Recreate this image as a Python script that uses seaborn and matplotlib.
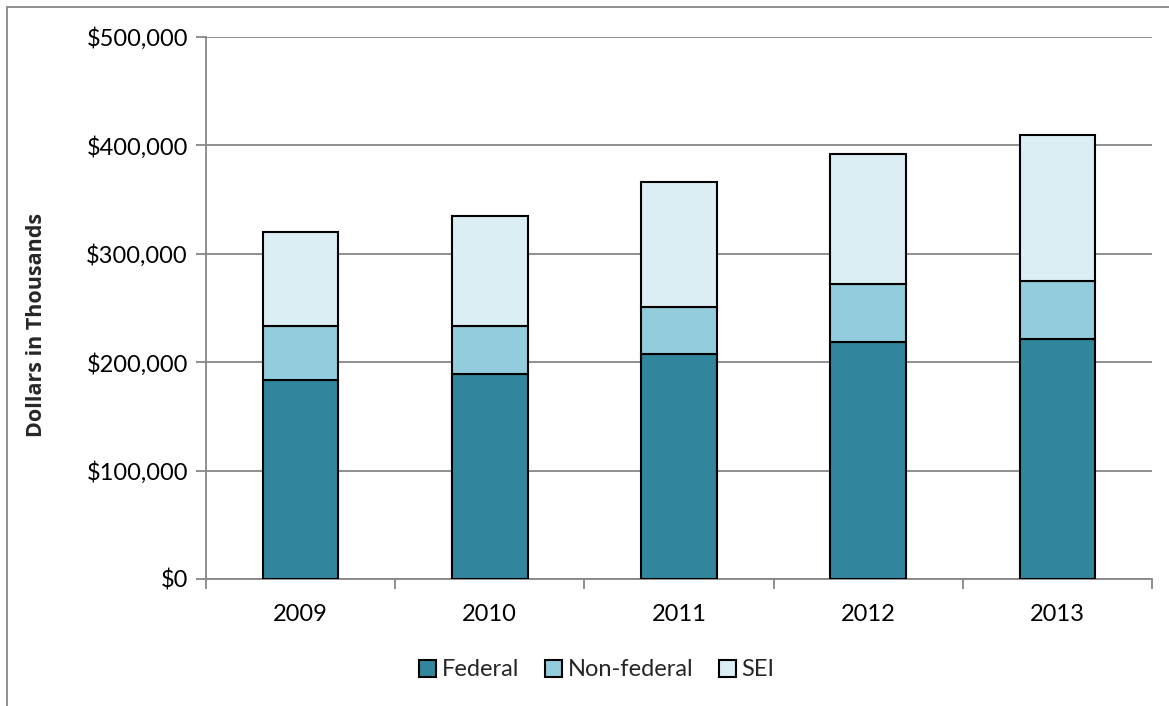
import matplotlib
matplotlib.use("Agg")
import matplotlib.pyplot as plt
import matplotlib.patches as mpatches
import seaborn as sns
import pandas as pd
import numpy as np
from matplotlib.ticker import FuncFormatter, FixedLocator

years = ["2009", "2010", "2011", "2012", "2013"]
federal = [184000, 189000, 208000, 219000, 221000]
non_federal = [49000, 44000, 43000, 53000, 54000]
sei = [87000, 102000, 115000, 120000, 135000]
series_names = ["Federal", "Non-federal", "SEI"]
colors = ["#31859C", "#93CDDD", "#DBEEF4"]
yticks = [0, 100000, 200000, 300000, 400000, 500000]

sns.set_theme(style="white")
plt.rcParams["font.family"] = ["Lato", "DejaVu Sans"]

fig = plt.figure(figsize=(11.69, 7.06), dpi=100)
W, H = 1169, 706
ax = fig.add_axes([206 / W, 1 - 579 / H, (1152 - 206) / W, (579 - 37) / H])

df = pd.DataFrame({"year": years, "Federal": federal, "Non-federal": non_federal, "SEI": sei})
bottoms = np.zeros(len(years))
for name, col in zip(series_names, colors):
    sns.barplot(data=df, x="year", y=name, color=col, width=0.4, bottom=bottoms,
                edgecolor="black", linewidth=1.5, ax=ax, zorder=3, saturation=1)
    bottoms = bottoms + df[name].values

ax.set_xlim(-0.5, 4.5)
ax.set_ylim(0, 500000)
ax.set_yticks(yticks)
ax.yaxis.set_major_formatter(FuncFormatter(lambda v, p: "${:,.0f}".format(v)))
ax.grid(axis="y", color="#868686", linewidth=1.3, zorder=0)
ax.set_axisbelow(True)

for s in ["top", "right"]:
    ax.spines[s].set_visible(False)
for s in ["left", "bottom"]:
    ax.spines[s].set_color("#868686")
    ax.spines[s].set_linewidth(1.3)

ax.tick_params(axis="y", which="major", direction="out", length=7, width=1.3,
               color="#868686", labelsize=17, labelcolor="black", pad=6, left=True)
ax.tick_params(axis="x", which="major", length=0, labelsize=17, labelcolor="black", pad=18)
ax.set_xticks(range(len(years)))
ax.set_xticklabels(years)
ax.xaxis.set_minor_locator(FixedLocator([-0.5, 0.5, 1.5, 2.5, 3.5, 4.5]))
ax.tick_params(axis="x", which="minor", direction="out", length=7, width=1.3,
               color="#868686", bottom=True)

ax.set_xlabel("")
ax.set_ylabel("Dollars in Thousands", fontsize=15.5, fontweight="bold",
              family=["Open Sans", "DejaVu Sans"])
ax.yaxis.set_label_coords(-0.168, 0.469)

handles = [mpatches.Patch(facecolor=c, edgecolor="black", linewidth=1.5, label=n)
           for n, c in zip(series_names, colors)]
fig.legend(handles=handles, loc="center", bbox_to_anchor=(597 / W, 1 - 670 / H),
           ncol=3, frameon=False, fontsize=17, handlelength=0.7, handleheight=0.7,
           handletextpad=0.25, columnspacing=1.1)

# outer chart border
fig.patches.append(mpatches.Rectangle((7 / W, -0.1), 1.2, (1 - 7 / H) + 0.1,
                                      transform=fig.transFigure, fill=False,
                                      edgecolor="#868686", linewidth=1.3))

fig.savefig("out.png", dpi=100)
